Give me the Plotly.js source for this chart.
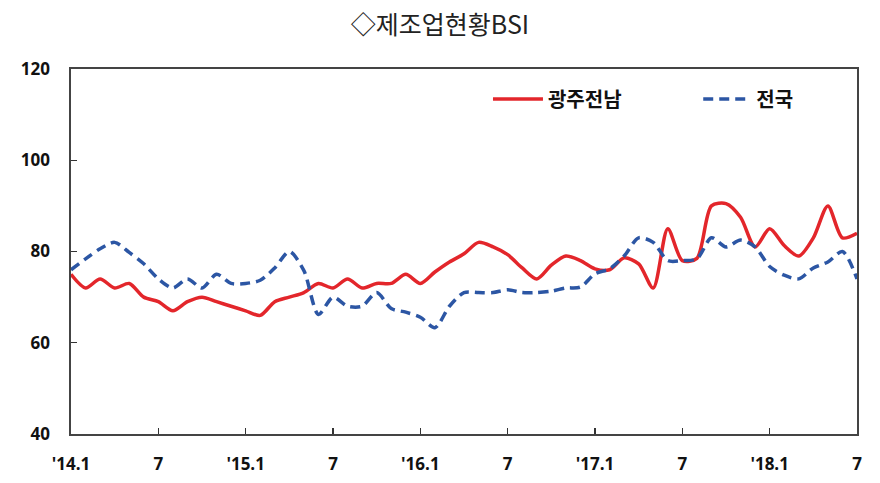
<!DOCTYPE html>
<html>
<head>
<meta charset="utf-8">
<script src="https://cdn.plot.ly/plotly-3.0.1.min.js"></script>
<style>html,body{margin:0;padding:0;background:#fff;}#chart{width:880px;height:483px;}</style>
</head>
<body>
<div id="chart"></div>
<script>
// Months from 2014.1 to 2018.7
var months = [];
for (var y = 2014; y <= 2018; y++) {
  for (var m = 1; m <= 12; m++) {
    if (y === 2018 && m > 7) break;
    months.push(y + '.' + (m < 10 ? '0' + m : m));
  }
}
var tickMonths = ['2014.01','2014.07','2015.01','2015.07','2016.01','2016.07','2017.01','2017.07','2018.01','2018.07'];
var tickLabels = ["'14.1","7","'15.1","7","'16.1","7","'17.1","7","'18.1","7"];

var seriesNames = ['광주전남', '전국'];
var gwangjuJeonnam = [
  75, 72, 74, 72, 73, 70, 69, 67, 69, 70, 69, 68,
  67, 66, 69, 70, 71, 73, 72, 74, 72, 73, 73, 75,
  73, 75.5, 77.7, 79.5, 82, 81, 79.3, 76.4, 74, 77, 79, 78,
  76.2, 76, 78.6, 77.3, 72, 85, 78, 78.5, 90, 90.5, 87.5, 81,
  85, 81.3, 79, 83, 90, 83, 84
];
var national = [
  76, 78.4, 80.6, 82, 79.8, 77.3, 74, 72, 74, 72, 75, 73,
  73, 73.7, 76.4, 80, 75.8, 66.2, 70, 68, 68, 71, 67.5, 66.7,
  65.6, 63.3, 68, 71, 71, 71, 71.6, 71, 71, 71.3, 72, 72.2,
  75.1, 76.2, 79, 83, 82, 78, 78, 78.4, 83, 81, 82.5, 81,
  76.7, 74.8, 74, 76.4, 77.7, 80, 74
];

var traces = [
  {
    x: months, y: gwangjuJeonnam, name: seriesNames[0], type: 'scatter', mode: 'lines',
    legend: 'legend',
    line: {color: '#e3262b', width: 3.5, shape: 'spline', smoothing: 0.8}
  },
  {
    x: months, y: national, name: seriesNames[1], type: 'scatter', mode: 'lines',
    legend: 'legend2',
    line: {color: '#2c56a4', width: 3.5, dash: '10px,6px', shape: 'spline', smoothing: 0.8}
  }
];

var tickFont = {family: 'Open Sans, Noto Sans, sans-serif', size: 17, color: '#111', weight: 'bold'};
var legendFont = {family: 'Noto Sans CJK KR, sans-serif', size: 20, color: '#111', weight: 'bold'};

var layout = {
  width: 880, height: 483,
  paper_bgcolor: '#ffffff', plot_bgcolor: '#ffffff',
  margin: {l: 71, r: 23, t: 69, b: 49, pad: 0},
  title: {
    text: '◇제조업현황BSI',
    font: {family: 'Noto Sans CJK KR, sans-serif', size: 25, color: '#222'},
    x: 0.5, xanchor: 'center', y: 0.947, yanchor: 'middle'
  },
  showlegend: true,
  legend: {
    orientation: 'h', x: 0.5305, xanchor: 'left', y: 0.918, yanchor: 'middle',
    font: legendFont, bgcolor: 'rgba(0,0,0,0)', itemwidth: 50
  },
  legend2: {
    orientation: 'h', x: 0.798, xanchor: 'left', y: 0.918, yanchor: 'middle',
    font: legendFont, bgcolor: 'rgba(0,0,0,0)', itemwidth: 48
  },
  xaxis: {
    type: 'category', range: [0, months.length - 1],
    tickmode: 'array', tickvals: tickMonths, ticktext: tickLabels,
    ticks: 'inside', ticklen: 6, tickwidth: 1.2, tickcolor: '#333',
    showline: true, linecolor: '#444', linewidth: 1.6, mirror: true,
    showgrid: false, zeroline: false,
    tickfont: tickFont, ticklabelstandoff: 14
  },
  yaxis: {
    range: [40, 120], tickmode: 'array', tickvals: [40, 60, 80, 100, 120],
    ticks: 'inside', ticklen: 6, tickwidth: 1.2, tickcolor: '#333',
    showline: true, linecolor: '#444', linewidth: 1.6, mirror: true,
    showgrid: false, zeroline: false,
    tickfont: tickFont, ticklabelstandoff: 16
  }
};

Plotly.newPlot('chart', traces, layout, {staticPlot: true, displayModeBar: false});
</script>
</body>
</html>
